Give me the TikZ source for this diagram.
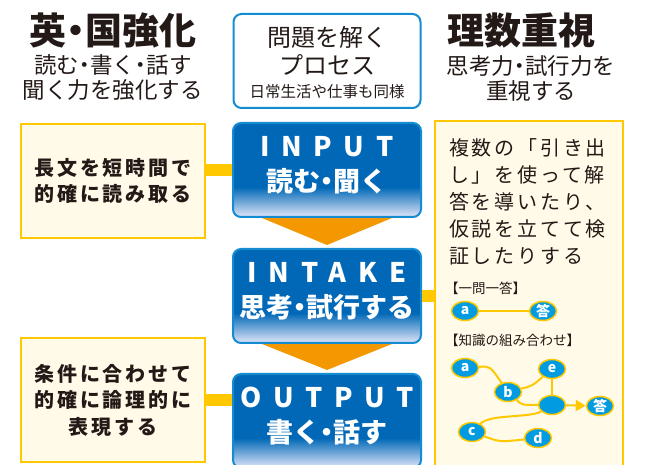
\documentclass[tikz,border=0pt]{standalone}
\usepackage{fontspec}
\setmainfont{Noto Sans CJK JP}
\usetikzlibrary{shapes.geometric,arrows.meta}
\definecolor{myyellow}{RGB}{255,200,0}
\definecolor{mycream}{RGB}{255,251,232}
\definecolor{myblue}{RGB}{0,104,183}
\definecolor{myedge}{RGB}{20,140,210}
\definecolor{mylav}{RGB}{226,230,248}
\definecolor{myorange}{RGB}{243,152,0}
\definecolor{myink}{RGB}{35,25,22}
\definecolor{myball}{RGB}{0,155,225}
\pgfdeclareverticalshading{myshade}{100bp}{color(0bp)=(mylav); color(25bp)=(mylav); color(41bp)=(myblue); color(100bp)=(myblue)}
\newcommand{\nakaguro}{\makebox[0.5em]{・}}
\newcommand{\myfs}[2]{\fontsize{#1}{#2}\selectfont}

\begin{document}
\begin{tikzpicture}[x=1pt, y=-1pt,
    myyellowbox/.style={draw=myyellow, fill=mycream, line width=2.5pt, inner sep=0pt},
    mybluebox/.style={draw=myedge, line width=2pt, rounded corners=8pt, shading=myshade,
        minimum width=188pt, minimum height=94pt, inner sep=0pt},
    mybluetext/.style={text=white, align=center, font=\bfseries\myfs{27}{35}},
    myball/.style={ellipse, draw=myyellow, fill=myball, line width=1.5pt, minimum width=27pt,
        minimum height=19pt, inner sep=0pt, text=white, font=\bfseries\myfs{14}{14}},
    myconn/.style={myyellow, line width=12pt},
    mylink/.style={myyellow, line width=2pt}
  ]
  \useasboundingbox (0,0) rectangle (649,465);

  % headings
  \node[text=myink, font=\bfseries\myfs{37}{40}] (engtitle) at (113,30) {英\nakaguro 国強化};
  \node[text=myink, align=center, font=\myfs{22.5}{25}] (engsub) at (113,78)
    {読む\nakaguro 書く\nakaguro 話す\\聞く力を強化する};
  \node[text=myink, font=\bfseries\myfs{37}{40}] (scititle) at (521,30) {理数重視};
  \node[text=myink, align=center, font=\myfs{22.5}{25}] (scisub) at (531,78)
    {思考力\nakaguro 試行力を\\重視する};

  % process box
  \node[draw=myedge, line width=2pt, rounded corners=8pt, minimum width=187pt,
        minimum height=94pt] (procbox) at (327,61) {};
  \node[text=myink, font=\myfs{24}{24}] (proc1) at (327,37) {問題を解く};
  \node[text=myink, font=\myfs{24}{24}] (proc2) at (327,65) {プロセス};
  \node[text=myink, font=\myfs{15.5}{16}] (proc3) at (327,92) {日常生活や仕事も同様};

  % arrows between steps
  \fill[myorange] (262,218) -- (392,218) -- (327,245) -- cycle;
  \fill[myorange] (262,344) -- (392,344) -- (327,370) -- cycle;

  % steps
  \node[mybluebox] (input) at (327,170) {};
  \node[mybluebox] (intake) at (327,296) {};
  \node[mybluebox] (output) at (327,421) {};
  \node[mybluetext] (inputtext) at (327,165)
    {{\addfontfeature{LetterSpace=43}INPUT\hspace{-11pt}}\\読む\nakaguro 聞く};
  \node[mybluetext] (intaketext) at (327,291)
    {{\addfontfeature{LetterSpace=43}INTAKE\hspace{-11pt}}\\思考\nakaguro 試行する};
  \node[mybluetext] (outputtext) at (327,416)
    {{\addfontfeature{LetterSpace=43}OUTPUT\hspace{-11pt}}\\書く\nakaguro 話す};

  % side boxes
  \node[myyellowbox, minimum width=184pt, minimum height=114pt, align=center,
        text=myink, font=\bfseries\myfs{20}{26}\addfontfeature{LetterSpace=14}] (readbox) at (113,181)
    {長文を短時間で\\的確に読み取る};
  \node[myyellowbox, minimum width=184pt, minimum height=124pt, align=center,
        text=myink, font=\bfseries\myfs{20}{26.5}\addfontfeature{LetterSpace=14}] (writebox) at (113,400)
    {条件に合わせて\\的確に論理的に\\表現する};
  \node[myyellowbox, minimum width=188pt, minimum height=354pt] (mathbox) at (529,298) {};

  \draw[myconn] (input.west) -- (input.west -| readbox.east);
  \draw[myconn] (writebox.east) -- (writebox.east -| output.west);
  \draw[myconn] (intake.east) -- (intake.east -| mathbox.west);

  % text of the right box
  \node[anchor=north west, align=left, inner sep=0pt, text=myink,
        font=\myfs{20}{27.2}\addfontfeature{LetterSpace=14}] (mathtext) at (449,138)
    {複数の「引き出\\し」を使って解\\答を導いたり、\\仮説を立てて検\\証したりする};
  \node[anchor=west, inner sep=0pt, text=myink, font=\myfs{13.5}{14}] (onelabel) at (445,288) {【一問一答】};
  \node[anchor=west, inner sep=0pt, text=myink, font=\myfs{13.5}{14}] (combolabel) at (445,340) {【知識の組み合わせ】};

  % one question, one answer
  \node[myball] (qa) at (465,311) {a};
  \node[myball] (qans) at (543,311) {答};
  \draw[myyellow, line width=1.2pt] (qa) -- (qans);

  % combined knowledge
  \node[myball] (ka) at (465,368) {a};
  \node[myball] (kb) at (508,392) {b};
  \node[myball] (ke) at (552,369) {e};
  \node[myball] (khub) at (552,405) {};
  \node[myball] (kans) at (600,406) {答};
  \node[myball] (kc) at (472,432) {c};
  \node[myball] (kd) at (538,438) {d};
  \draw[mylink] (ka) .. controls (490,366) .. (kb);
  \draw[mylink] (kb) .. controls (532,386) .. (ke);
  \draw[mylink] (ke) -- (khub);
  \draw[mylink] (kb) .. controls (522,405) .. (khub);
  \draw[mylink] (khub) .. controls (530,418) and (490,414) .. (kc);
  \draw[mylink] (kc) .. controls (500,442) .. (kd);
  \draw[mylink, -{Triangle[length=10pt, width=11pt]}] (khub) -- (kans);
\end{tikzpicture}
\end{document}
